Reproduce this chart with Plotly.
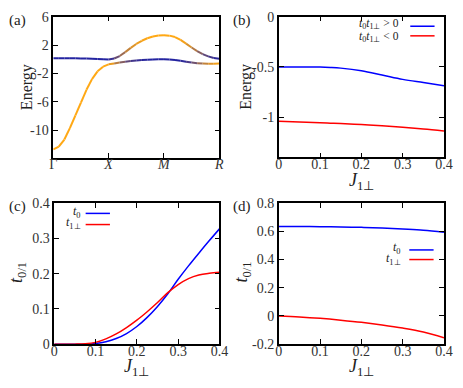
import plotly.graph_objects as go

# ---------------- data ----------------
# (a) band structure along Gamma-X-M-R (k in units of path segments)
k_path = [0.0, 0.1, 0.2, 0.3, 0.4, 0.5, 0.6, 0.7, 0.8, 0.9, 1.0,
          1.1, 1.2, 1.3, 1.4, 1.5, 1.6, 1.7, 1.8, 1.9, 2.0,
          2.1, 2.2, 2.3, 2.4, 2.5, 2.6, 2.7, 2.8, 2.9, 3.0]
band_lower = [-12.7, -12.3, -11.3, -9.7, -7.9, -6.1, -4.3, -2.8, -1.7, -1.05, -0.72,
              -0.6, -0.47, -0.35, -0.25, -0.17, -0.11, -0.06, -0.03, -0.01, 0.0,
              -0.03, -0.1, -0.22, -0.35, -0.47, -0.56, -0.61, -0.63, -0.62, -0.6]
band_upper = [0.15, 0.15, 0.15, 0.14, 0.13, 0.12, 0.1, 0.07, 0.03, -0.01, -0.03,
              0.1, 0.45, 1.0, 1.6, 2.15, 2.6, 2.95, 3.2, 3.33, 3.37,
              3.32, 3.12, 2.72, 2.2, 1.65, 1.15, 0.72, 0.4, 0.17, 0.08]
# orange weight of the lower band (upper band = 1 - weight)
orange_weight_lower = [1, 1, 1, 1, 1, 1, 1, 1, 1, 1, 1,
                       0.8, 0.55, 0.35, 0.2, 0.1, 0.05, 0, 0, 0, 0,
                       0, 0, 0, 0.1, 0.25, 0.45, 0.65, 0.8, 0.9, 1.0]
k_ticks = [0, 1, 2, 3]
k_labels = ["Γ", "<i>X</i>", "<i>M</i>", "<i>R</i>"]
a_yticks = [6, 2, -2, -6, -10]
a_ytext = ["6", "2", "-2", "-6", "-10"]

# (b) energies vs J
J_b = [0.0, 0.05, 0.1, 0.125, 0.15, 0.2, 0.25, 0.3, 0.35, 0.4]
E_pos = [-0.5, -0.5, -0.501, -0.505, -0.512, -0.538, -0.58, -0.624, -0.656, -0.688]
E_neg = [-1.041, -1.048, -1.055, -1.059, -1.063, -1.073, -1.086, -1.1, -1.117, -1.137]
b_yticks = [0, -0.5, -1]
b_ytext = ["0", "-0.5", "-1"]

# (c) hoppings vs J
J_c = [0.0, 0.025, 0.05, 0.075, 0.1, 0.125, 0.15, 0.175, 0.2, 0.225,
       0.25, 0.275, 0.3, 0.325, 0.35, 0.375, 0.4]
t0_c = [0, 0, 0, 0, 0.002, 0.007, 0.016, 0.03, 0.05, 0.076,
        0.107, 0.143, 0.184, 0.222, 0.258, 0.293, 0.327]
t1_c = [0, 0, 0, 0.001, 0.005, 0.015, 0.029, 0.047, 0.068, 0.092,
        0.118, 0.146, 0.169, 0.186, 0.196, 0.201, 0.204]
c_yticks = [0, 0.1, 0.2, 0.3, 0.4]
c_ytext = ["0", "0.1", "0.2", "0.3", "0.4"]

# (d) hoppings vs J
J_d = [0.0, 0.05, 0.1, 0.15, 0.2, 0.25, 0.3, 0.35, 0.4]
t0_d = [0.635, 0.634, 0.633, 0.631, 0.628, 0.623, 0.616, 0.608, 0.594]
t1_d = [0.0, -0.007, -0.017, -0.03, -0.045, -0.064, -0.086, -0.114, -0.155]
d_yticks = [0.8, 0.6, 0.4, 0.2, 0, -0.2]
d_ytext = ["0.8", "0.6", "0.4", "0.2", "0", "-0.2"]

J_ticks = [0, 0.1, 0.2, 0.3, 0.4]
J_text = ["0", "0.1", "0.2", "0.3", "0.4"]

# ---------------- layout helpers ----------------
W, H = 463, 388
FONT = "Liberation Serif, Times New Roman, serif"
ORANGE = (255, 168, 20)
NAVY = (35, 35, 160)


def px(x):
    return x / W


def py(y):
    return 1 - y / H


def mix(w):
    c = [round(ORANGE[i] * w + NAVY[i] * (1 - w)) for i in range(3)]
    return "rgb(%d,%d,%d)" % tuple(c)


fig = go.Figure()

# (a) colored bands
for band, wts in ((band_lower, orange_weight_lower),
                  (band_upper, [1 - w for w in orange_weight_lower])):
    for i in range(len(k_path) - 1):
        fig.add_trace(go.Scatter(
            x=k_path[i:i + 2], y=band[i:i + 2], mode="lines",
            line=dict(color=mix((wts[i] + wts[i + 1]) / 2), width=2),
            xaxis="x", yaxis="y", showlegend=False, hoverinfo="skip"))

# (b)
fig.add_trace(go.Scatter(x=J_b, y=E_pos, mode="lines", line=dict(color="#0000ff", width=1.5),
                         xaxis="x2", yaxis="y2", showlegend=False, line_shape="spline"))
fig.add_trace(go.Scatter(x=J_b, y=E_neg, mode="lines", line=dict(color="#ff0000", width=1.5),
                         xaxis="x2", yaxis="y2", showlegend=False, line_shape="spline"))
# (c)
fig.add_trace(go.Scatter(x=J_c, y=t0_c, mode="lines", line=dict(color="#0000ff", width=1.5),
                         xaxis="x3", yaxis="y3", showlegend=False, line_shape="spline"))
fig.add_trace(go.Scatter(x=J_c, y=t1_c, mode="lines", line=dict(color="#ff0000", width=1.5),
                         xaxis="x3", yaxis="y3", showlegend=False, line_shape="spline"))
# (d)
fig.add_trace(go.Scatter(x=J_d, y=t0_d, mode="lines", line=dict(color="#0000ff", width=1.5),
                         xaxis="x4", yaxis="y4", showlegend=False, line_shape="spline"))
fig.add_trace(go.Scatter(x=J_d, y=t1_d, mode="lines", line=dict(color="#ff0000", width=1.5),
                         xaxis="x4", yaxis="y4", showlegend=False, line_shape="spline"))

tickfont = dict(family=FONT, size=14, color="#333")


def axis(domain, rng, tickvals, ticktext, anchor, standoff):
    return dict(domain=domain, range=rng, tickvals=tickvals, ticktext=ticktext,
                anchor=anchor, showline=True, linecolor="black", linewidth=1.5,
                mirror="allticks", ticks="inside", ticklen=5, tickwidth=1,
                tickcolor="black", showgrid=False, zeroline=False,
                tickfont=tickfont, ticklabelstandoff=standoff)


dom = {
    "a": ([px(50.7), px(221.5)], [py(156.7), py(10)]),
    "b": ([px(282.7), px(452.7)], [py(156.5), py(10)]),
    "c": ([px(51.7), px(221.7)], [py(350.7), py(204)]),
    "d": ([px(282.7), px(452.7)], [py(350.7), py(204)]),
}

XS, YS = -7, 0
fig.update_layout(
    width=W, height=H, margin=dict(l=0, r=0, t=0, b=0),
    paper_bgcolor="white", plot_bgcolor="white",
    font=dict(family=FONT),
    xaxis=axis(dom["a"][0], [0, 3], k_ticks, k_labels, "y", XS),
    yaxis=axis(dom["a"][1], [-13.85, 6], a_yticks, a_ytext, "x", YS),
    xaxis2=axis(dom["b"][0], [0, 0.4], J_ticks, J_text, "y2", XS),
    yaxis2=axis(dom["b"][1], [-1.4, 0], b_yticks, b_ytext, "x2", YS),
    xaxis3=axis(dom["c"][0], [0, 0.4], J_ticks, J_text, "y3", XS),
    yaxis3=axis(dom["c"][1], [0, 0.4], c_yticks, c_ytext, "x3", YS),
    xaxis4=axis(dom["d"][0], [0, 0.4], J_ticks, J_text, "y4", XS),
    yaxis4=axis(dom["d"][1], [-0.2, 0.8], d_yticks, d_ytext, "x4", YS),
)

ann = []


def text(x, y, s, size, xanchor="center", angle=0):
    ann.append(dict(x=px(x), y=py(y), xref="paper", yref="paper", text=s, showarrow=False,
                    xanchor=xanchor, yanchor="middle", textangle=angle,
                    font=dict(family=FONT, size=size, color="#222")))


# panel labels
for lbl, x, y in (("(a)", 14, 14), ("(b)", 245, 14), ("(c)", 14, 208), ("(d)", 245, 208)):
    text(x, y, lbl, 15)

# axis titles
J_title = "<i>J</i><sub>1⊥</sub>"
t_title = "<i>t</i><sub>0/1</sub>"
text(23, 83, "Energy", 16, angle=-90)
text(249, 83, "Energy", 16, angle=-90)
text(367.7, 181, J_title, 18)
text(136.7, 375, J_title, 18)
text(367.7, 375, J_title, 18)
text(14, 276, t_title, 18, angle=-90)
text(245, 276, t_title, 18, angle=-90)

# manual legends
legend_items = [
    (408, 17.5, "<i>t</i><sub>0</sub><i>t</i><sub>1⊥</sub> > 0", 418, 443, 20, "#0000ff", 11.5),
    (408, 31, "<i>t</i><sub>0</sub><i>t</i><sub>1⊥</sub> < 0", 418, 443, 30, "#ff0000", 11.5),
    (81, 213, "<i>t</i><sub>0</sub>", 84, 109, 214.7, "#0000ff", 12),
    (81, 225, "<i>t</i><sub>1⊥</sub>", 84, 109, 226.3, "#ff0000", 12),
    (411, 251, "<i>t</i><sub>0</sub>", 417, 442, 252.7, "#0000ff", 12),
    (411, 262, "<i>t</i><sub>1⊥</sub>", 417, 442, 262.7, "#ff0000", 12),
]
shapes = []
for tx, ty, s, x0, x1, ly, col, fs in legend_items:
    text(tx, ty, s, fs, xanchor="right")
    shapes.append(dict(type="line", xref="paper", yref="paper", x0=px(x0), x1=px(x1),
                       y0=py(ly), y1=py(ly), line=dict(color=col, width=1.5)))

fig.update_layout(annotations=ann, shapes=shapes)
fig.write_html("out.html", config={"displayModeBar": False},
               post_script="document.body.style.margin='0';document.body.style.overflow='hidden';")
